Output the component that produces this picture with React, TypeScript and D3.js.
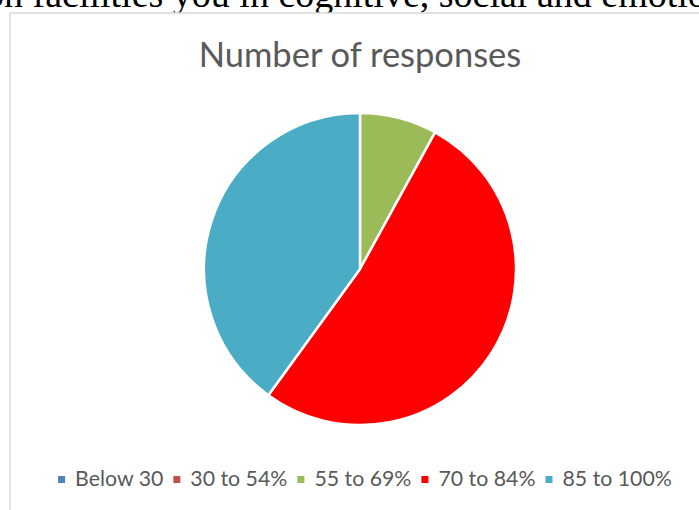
import { useEffect, useRef } from "react";
import * as d3 from "d3";

const categories = ["Below 30", "30 to 54%", "55 to 69%", "70 to 84%", "85 to 100%"];
const responses = [0, 0, 2, 13, 10];
const colors = ["#4f81bd", "#c0504d", "#9bbb59", "#ff0000", "#4bacc6"];
const title = "Number of responses";
const pageText = "on facilities you in cognitive, social and emotional";

const WIDTH = 699;
const HEIGHT = 510;
const FONT = "Lato, 'Open Sans', sans-serif";

export default function App() {
  const svgRef = useRef<SVGSVGElement>(null);

  useEffect(() => {
    document.body.style.margin = "0";
    const svg = svgRef.current;
    if (!svg) return;
    const root = d3.select(svg);
    root.selectAll("*").remove();

    // document text cut off above the chart
    root
      .append("text")
      .attr("x", -15)
      .attr("y", 7)
      .attr("font-family", "'Liberation Serif', 'Times New Roman', serif")
      .attr("font-size", 38)
      .attr("fill", "#000")
      .text(pageText);

    // chart area frame
    root
      .append("rect")
      .attr("x", 10)
      .attr("y", 13)
      .attr("width", WIDTH + 20)
      .attr("height", HEIGHT + 20)
      .attr("fill", "#fff")
      .attr("stroke", "#d9d9d9")
      .attr("stroke-width", 1.5);

    root
      .append("text")
      .attr("x", 360)
      .attr("y", 67)
      .attr("text-anchor", "middle")
      .attr("font-family", FONT)
      .attr("font-size", 34.5)
      .attr("fill", "#595959")
      .text(title);

    // pie
    const cx = 360;
    const cy = 269;
    const radius = 156;
    const data = categories.map((c, i) => ({ cat: c, value: responses[i], color: colors[i] }));
    const pie = d3
      .pie<(typeof data)[number]>()
      .sort(null)
      .value((d) => d.value);
    const arc = d3.arc<d3.PieArcDatum<(typeof data)[number]>>().innerRadius(0).outerRadius(radius);

    const g = root.append("g").attr("transform", `translate(${cx},${cy})`);
    g.selectAll("path")
      .data(pie(data).filter((d) => d.data.value > 0))
      .join("path")
      .attr("d", arc)
      .attr("fill", (d) => d.data.color)
      .attr("stroke", "#fff")
      .attr("stroke-width", 2.5)
      .attr("stroke-linejoin", "round");

    // legend
    const legend = root.append("g");
    const items = legend
      .selectAll("g")
      .data(data)
      .join("g");
    items
      .append("rect")
      .attr("width", 7)
      .attr("height", 7)
      .attr("y", 476)
      .attr("fill", (d) => d.color);
    const labels = items
      .append("text")
      .attr("y", 486)
      .attr("font-family", FONT)
      .attr("font-size", 21.3)
      .attr("fill", "#595959")
      .text((d) => d.cat);

    const widths: number[] = [];
    labels.each(function () {
      widths.push((this as SVGTextElement).getComputedTextLength());
    });
    const markerGap = 10;
    const itemGap = 10;
    const total =
      d3.sum(widths) + widths.length * (7 + markerGap) + (widths.length - 1) * itemGap;
    let x = 365 - total / 2;
    items.each(function (_, i) {
      const item = d3.select(this);
      item.select("rect").attr("x", x);
      item.select("text").attr("x", x + 7 + markerGap);
      x += 7 + markerGap + widths[i] + itemGap;
    });
  }, []);

  return <svg ref={svgRef} width={WIDTH} height={HEIGHT} style={{ display: "block" }} />;
}
